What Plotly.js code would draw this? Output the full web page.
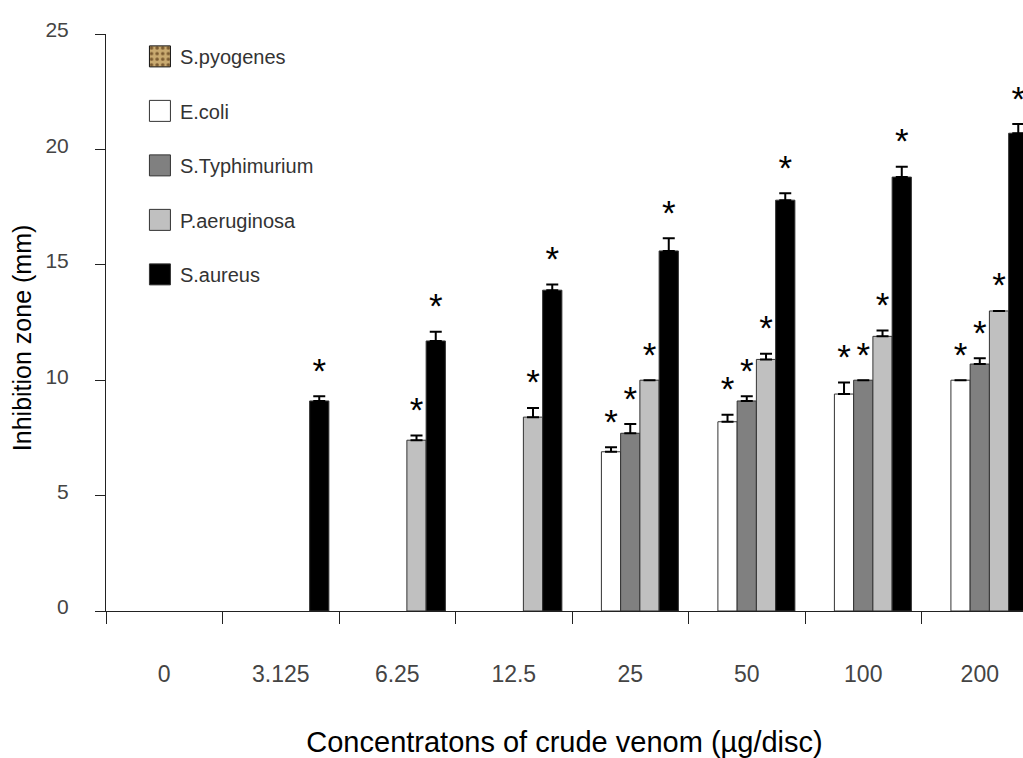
<!DOCTYPE html>
<html>
<head>
<meta charset="utf-8">
<script src="https://cdn.plot.ly/plotly-3.0.1.min.js"></script>
<style>
  html, body { margin: 0; padding: 0; background: #fff; }
  #chart { width: 1023px; height: 758px; }
</style>
</head>
<body>
<div id="chart"></div>
<script>
// Crude venom concentrations (µg/disc)
const doses = ['0', '3.125', '6.25', '12.5', '25', '50', '100', '200'];

// Mean inhibition zone (mm) per organism
const pyogenes    = [0, 0, 0, 0, 0, 0, 0, 0];
const ecoli       = [0, 0, 0, 0, 6.9, 8.2, 9.4, 10.0];
const typhimurium = [0, 0, 0, 0, 7.7, 9.1, 10.0, 10.7];
const aeruginosa  = [0, 0, 7.4, 8.4, 10.0, 10.9, 11.9, 13.0];
const aureus      = [0, 9.1, 11.7, 13.9, 15.6, 17.8, 18.8, 20.7];

// Upper error (SD) per bar; null where no error bar is drawn
const pyogenesErr    = [null, null, null, null, null, null, null, null];
const ecoliErr       = [null, null, null, null, 0.2, 0.3, 0.5, null];
const typhimuriumErr = [null, null, null, null, 0.4, 0.2, null, 0.25];
const aeruginosaErr  = [null, null, 0.2, 0.4, null, 0.25, 0.25, null];
const aureusErr      = [null, 0.2, 0.4, 0.25, 0.55, 0.3, 0.45, 0.4];

const seriesNames = ['S.pyogenes', 'E.coli', 'S.Typhimurium', 'P.aeruginosa', 'S.aureus'];
const seriesValues = [pyogenes, ecoli, typhimurium, aeruginosa, aureus];
const seriesErrors = [pyogenesErr, ecoliErr, typhimuriumErr, aeruginosaErr, aureusErr];

const fills = ['#c8a96f', '#ffffff', '#808080', '#c0c0c0', '#000000'];
const BARGAP = 0.174;

const traces = [];

// Bars (a zero zone is left empty rather than drawn as a flat outline)
seriesNames.forEach((name, i) => {
  const marker = { color: fills[i], line: { color: i === 0 ? '#111' : '#333', width: 1 } };
  if (i === 0) {
    marker.pattern = { shape: '.', bgcolor: '#c9aa70', fgcolor: '#7a5a30', size: 4, solidity: 0.3 };
  }
  traces.push({
    type: 'bar',
    name: name,
    legendgroup: name,
    x: doses,
    y: seriesValues[i].map(v => (v > 0 ? v : null)),
    marker: marker,
    error_y: {
      type: 'data',
      symmetric: false,
      array: seriesErrors[i],
      arrayminus: seriesErrors[i].map(() => 0),
      color: '#000',
      thickness: 2,
      width: 6
    },
    hoverinfo: 'skip'
  });
});

// Significance asterisks above every non-zero bar (anchored at the top of the error bar)
seriesNames.forEach((name, i) => {
  traces.push({
    type: 'scatter',
    mode: 'markers+text',
    x: doses,
    y: seriesValues[i].map((v, k) => v + (seriesErrors[i][k] || 0)),
    text: seriesValues[i].map(v => (v > 0 ? '*' : '')),
    textposition: 'top center',
    textfont: { family: 'Liberation Sans, Arial, sans-serif', size: 35, color: '#000' },
    marker: { size: 6, color: 'rgba(0,0,0,0)' },
    cliponaxis: false,
    showlegend: false,
    hoverinfo: 'skip'
  });
});

const layout = {
  width: 1023,
  height: 758,
  margin: { l: 106, r: 0, t: 34, b: 147 },
  paper_bgcolor: '#ffffff',
  plot_bgcolor: '#ffffff',
  font: { family: 'Liberation Sans, Arial, sans-serif', color: '#333' },
  barmode: 'group',
  bargap: BARGAP,
  bargroupgap: 0,
  scattermode: 'group',
  scattergap: BARGAP,
  showlegend: true,
  legend: {
    x: 0.037,
    y: 0.995,
    xanchor: 'left',
    yanchor: 'top',
    bgcolor: 'rgba(0,0,0,0)',
    borderwidth: 0,
    traceorder: 'grouped',
    tracegroupgap: 25.5,
    font: { size: 20, color: '#333' }
  },
  xaxis: {
    type: 'category',
    range: [-0.5, 7.371],
    tickson: 'boundaries',
    ticks: 'outside',
    ticklen: 12,
    tickwidth: 1,
    tickcolor: '#222',
    showline: true,
    linecolor: '#222',
    linewidth: 1,
    showgrid: false,
    zeroline: false,
    tickfont: { size: 23, color: '#444' },
    ticklabelstandoff: 42,
    title: {
      text: 'Concentratons of crude venom (µg/disc)',
      font: { size: 29, color: '#000' },
      standoff: 52
    }
  },
  yaxis: {
    range: [0, 25],
    dtick: 5,
    ticks: 'outside',
    ticklen: 10,
    tickwidth: 1,
    tickcolor: '#222',
    showline: true,
    linecolor: '#222',
    linewidth: 1,
    showgrid: false,
    zeroline: false,
    tickfont: { size: 21, color: '#444' },
    ticklabelstandoff: 22,
    ticklabelshift: -4
  },
  annotations: [{
    // y-axis title, set slightly below the axis midpoint
    text: 'Inhibition zone (mm)',
    xref: 'paper',
    yref: 'paper',
    x: -0.0915,
    y: 0.473,
    xanchor: 'center',
    yanchor: 'middle',
    textangle: -90,
    showarrow: false,
    font: { size: 25, color: '#000' }
  }]
};

Plotly.newPlot('chart', traces, layout, { staticPlot: true, displayModeBar: false }).then(() => {
  // Enlarge the legend swatches to the larger square keys used in this figure
  document.querySelectorAll('#chart .legend .legendpoints path').forEach(p => {
    const t = p.getAttribute('transform') || '';
    p.setAttribute('transform', t + ' scale(1.75)');
    p.style.vectorEffect = 'non-scaling-stroke';
  });
});
</script>
</body>
</html>
